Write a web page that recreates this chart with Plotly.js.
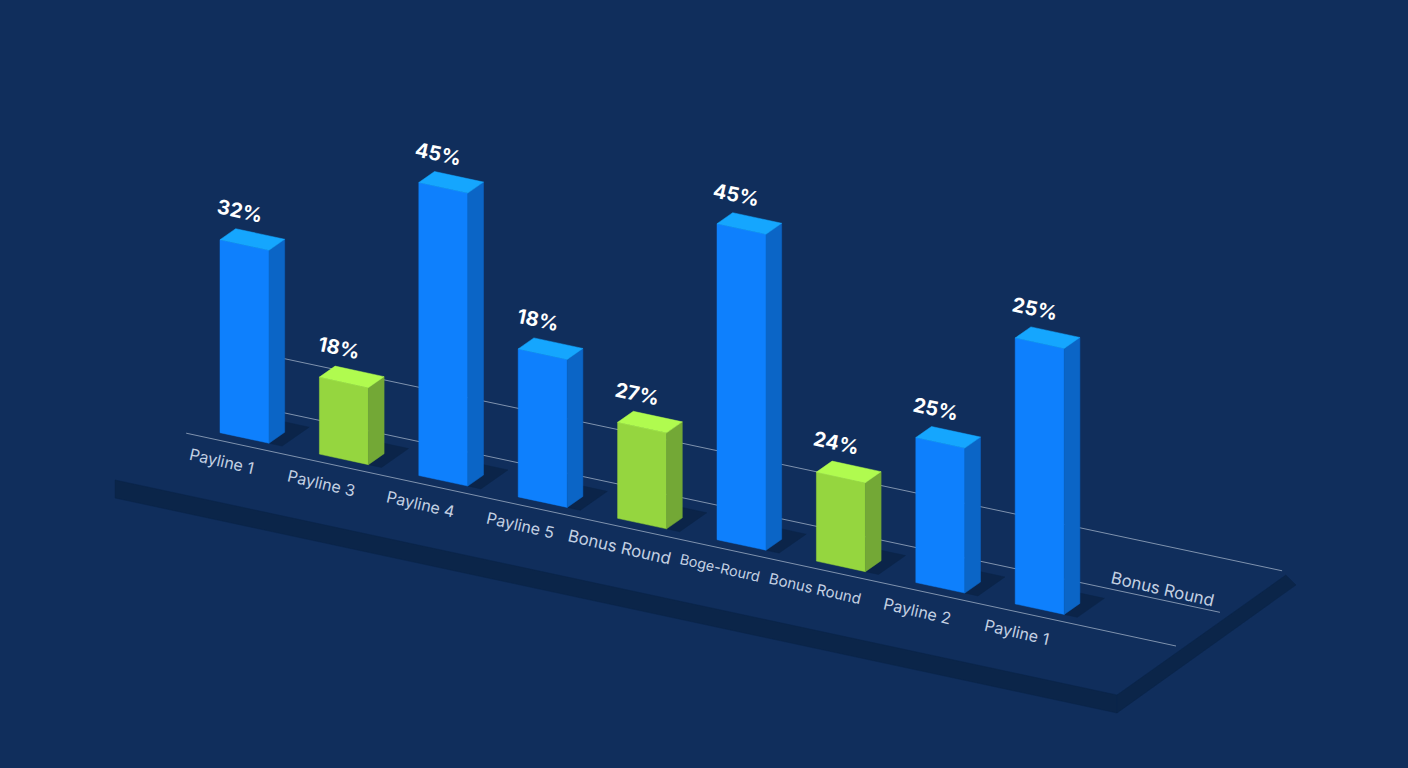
<!DOCTYPE html>
<html>
<head>
<meta charset="utf-8">
<script src="https://cdn.plot.ly/plotly-3.0.1.min.js"></script>
<style>html,body{margin:0;padding:0;background:#102e5c;overflow:hidden}#chart{width:1408px;height:768px}</style>
</head>
<body>
<div id="chart"></div>
<script>
// ---- data ----
const categories  = ['Payline 1','Payline 3','Payline 4','Payline 5','Bonus Round','Boge-Rourd','Bonus Round','Payline 2','Payline 1'];
const shareLabels = [32,18,45,18,27,45,24,25,25];
const barHeights  = [193,77,293,148,96,316,89,145,266];
const barSeries   = ['A','B','A','A','B','A','B','A','A'];
const extraCategory = 'Bonus Round';

// ---- oblique projection of the floor onto the cartesian axes ----
const O = [220,432.7], U = [99.4,21.4], V = [15.7,-11];
function px(u,v){return O[0]+u*U[0]+v*V[0];}
function py(u,v,h){return O[1]+u*U[1]+v*V[1]-(h||0);}
const BAR_W = 0.493, BG = '#102e5c';
const palette = {
  A:{front:'#0e80fd',side:'#0b65c6',top:'#15a6fe'},
  B:{front:'#95d63f',side:'#73a836',top:'#b0fb4f'}
};
const catFontSize = [16,16,16,16,16.8,14.3,15,16,16];
const catShift    = [0.02,0.02,0.02,0.02,0.02,0.03,-0.01,0.02,0.02];
const traces = [];
function poly(pts,color){
  traces.push({type:'scatter',mode:'lines',x:pts.map(p=>px(p[0],p[1])).concat(px(pts[0][0],pts[0][1])),
    y:pts.map(p=>py(p[0],p[1],p[2])).concat(py(pts[0][0],pts[0][1],pts[0][2])),
    fill:'toself',fillcolor:color,line:{color:color,width:0.5},hoverinfo:'skip',showlegend:false});
}
function floorLine(v0,u0,u1,v1){
  traces.push({type:'scatter',mode:'lines',x:[px(u0,v0),px(u1,v1)],y:[py(u0,v0),py(u1,v1)],
    line:{color:'rgba(196,208,224,0.62)',width:1},hoverinfo:'skip',showlegend:false});
}
// platform edge bands
const TH = 18, BAND = '#0b2549';
poly([[-0.2885,-4.86,0],[9.784,-4.81,0],[9.784,-4.81,-TH],[-0.2885,-4.86,-TH]],BAND);
poly([[9.784,-4.81,0],[9.766,6.06,0],[9.953,5.52,0],[9.784,-4.81,-TH]],BAND);
// floor lines
floorLine(-0.54,-0.255,9.70,-0.52);
floorLine(2.34,0.2,9.668,2.48);
floorLine(6.11,-0.4,9.69,6.30);
// shadows, then bars
categories.forEach((c,i)=>{
  poly([[i+0.2,0],[i+0.625,0],[i+0.625,1.72],[i+0.2,1.72]],'#0b2449');
});
categories.forEach((c,i)=>{
  const h = barHeights[i], col = palette[barSeries[i]], a=i, b=i+BAR_W;
  poly([[a,0,0],[b,0,0],[b,0,h],[a,0,h]],col.front);
  poly([[b,0,0],[b,1,0],[b,1,h],[b,0,h]],col.side);
  poly([[a,0,h],[b,0,h],[b,1,h],[a,1,h]],col.top);
});
// text
const annotations = [];
categories.forEach((c,i)=>{
  annotations.push({x:px(i+0.2,0),y:py(i+0.2,0,barHeights[i]+33),xref:'x',yref:'y',showarrow:false,
    text:'<b>'+shareLabels[i]+'%</b>',textangle:12,font:{family:'Inter, "Open Sans", sans-serif',size:20,color:'#ffffff'}});
  annotations.push({x:px(i+catShift[i],0),y:py(i+catShift[i],0,-28),xref:'x',yref:'y',showarrow:false,
    text:c,textangle:13,font:{family:'Inter, "Open Sans", sans-serif',size:catFontSize[i],color:'#c3d0e2'}});
});
annotations.push({x:px(8.97,3.25),y:py(8.97,3.25),xref:'x',yref:'y',showarrow:false,
  text:extraCategory,textangle:13,font:{family:'Inter, "Open Sans", sans-serif',size:16.8,color:'#c3d0e2'}});

Plotly.newPlot('chart',traces,{
  width:1408,height:768,margin:{l:0,r:0,t:0,b:0},paper_bgcolor:BG,plot_bgcolor:BG,showlegend:false,
  xaxis:{range:[0,1408],visible:false,fixedrange:true},
  yaxis:{range:[768,0],visible:false,fixedrange:true},
  annotations:annotations,hovermode:false
},{displayModeBar:false,staticPlot:true});
</script>
</body>
</html>
